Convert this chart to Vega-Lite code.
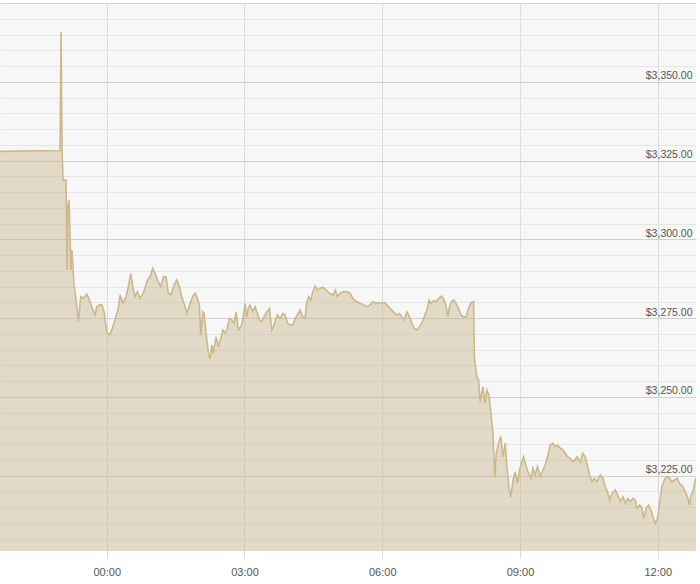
{
  "$schema": "https://vega.github.io/schema/vega-lite/v6.json",
  "autosize": {"type": "none"},
  "padding": {"left": 0, "top": 3, "right": 4, "bottom": 33},
  "width": 696,
  "height": 548,
  "background": "#ffffff",
  "config": {
    "view": {"fill": "#f7f7f7", "stroke": null},
    "font": "Liberation Sans"
  },
  "data": {
    "values": [
      {"t": -139.5, "p": 3327.9}, {"t": -61.0, "p": 3328.2}, {"t": -59.7, "p": 3365.8}, {"t": -58.4, "p": 3328.3},
      {"t": -57.1, "p": 3318.8}, {"t": -53.2, "p": 3318.8}, {"t": -51.9, "p": 3290.3}, {"t": -50.6, "p": 3310.9},
      {"t": -49.3, "p": 3312.5}, {"t": -48.0, "p": 3301.4}, {"t": -46.7, "p": 3290.3}, {"t": -45.4, "p": 3296.6},
      {"t": -42.8, "p": 3285.5}, {"t": -40.1, "p": 3280.7}, {"t": -37.1, "p": 3273.9}, {"t": -34.0, "p": 3281.8},
      {"t": -30.6, "p": 3281.3}, {"t": -26.1, "p": 3282.6}, {"t": -22.7, "p": 3280.7}, {"t": -19.6, "p": 3278.6},
      {"t": -15.3, "p": 3276.0}, {"t": -13.1, "p": 3278.6}, {"t": -9.7, "p": 3279.2}, {"t": -6.5, "p": 3279.2},
      {"t": -3.5, "p": 3277.0}, {"t": 0, "p": 3270.7}, {"t": 3.4, "p": 3269.6}, {"t": 6.5, "p": 3271.2},
      {"t": 10.8, "p": 3274.4}, {"t": 15.2, "p": 3278.2}, {"t": 17.4, "p": 3282.3}, {"t": 20.9, "p": 3279.8},
      {"t": 25.2, "p": 3281.8}, {"t": 28.2, "p": 3285.0}, {"t": 31.4, "p": 3289.2}, {"t": 34.0, "p": 3285.0},
      {"t": 37.0, "p": 3281.8}, {"t": 40.0, "p": 3283.4}, {"t": 43.5, "p": 3281.3}, {"t": 47.8, "p": 3282.9},
      {"t": 53.1, "p": 3287.1}, {"t": 56.6, "p": 3288.1}, {"t": 60.1, "p": 3290.8}, {"t": 63.1, "p": 3289.2},
      {"t": 67.5, "p": 3286.5}, {"t": 70.6, "p": 3285.0}, {"t": 74.0, "p": 3288.1}, {"t": 77.5, "p": 3288.1},
      {"t": 80.5, "p": 3282.9}, {"t": 83.7, "p": 3282.3}, {"t": 88.0, "p": 3285.5}, {"t": 91.5, "p": 3287.1},
      {"t": 94.9, "p": 3285.0}, {"t": 98.0, "p": 3281.8}, {"t": 102.4, "p": 3278.6}, {"t": 104.6, "p": 3276.5},
      {"t": 108.9, "p": 3279.7}, {"t": 113.2, "p": 3282.3}, {"t": 115.4, "p": 3282.9}, {"t": 118.4, "p": 3281.3},
      {"t": 121.0, "p": 3279.2}, {"t": 122.9, "p": 3269.6}, {"t": 125.5, "p": 3277.0}, {"t": 127.2, "p": 3276.5},
      {"t": 129.8, "p": 3270.2}, {"t": 132.8, "p": 3263.8}, {"t": 135.0, "p": 3262.2}, {"t": 137.3, "p": 3266.5},
      {"t": 139.3, "p": 3263.8}, {"t": 142.9, "p": 3269.1}, {"t": 145.9, "p": 3265.9}, {"t": 149.0, "p": 3268.6},
      {"t": 151.6, "p": 3271.2}, {"t": 154.6, "p": 3270.2}, {"t": 157.6, "p": 3271.8}, {"t": 160.3, "p": 3274.9},
      {"t": 163.4, "p": 3274.4}, {"t": 166.4, "p": 3273.4}, {"t": 169.0, "p": 3277.0}, {"t": 172.0, "p": 3271.2},
      {"t": 175.2, "p": 3272.3}, {"t": 177.8, "p": 3274.4}, {"t": 180.8, "p": 3279.7}, {"t": 183.0, "p": 3275.4},
      {"t": 185.1, "p": 3278.1}, {"t": 187.3, "p": 3279.2}, {"t": 190.9, "p": 3277.0}, {"t": 193.9, "p": 3278.6},
      {"t": 196.1, "p": 3277.0}, {"t": 199.5, "p": 3274.4}, {"t": 202.6, "p": 3273.9}, {"t": 205.6, "p": 3275.4},
      {"t": 209.2, "p": 3277.0}, {"t": 212.6, "p": 3278.1}, {"t": 215.7, "p": 3271.2}, {"t": 217.8, "p": 3272.3},
      {"t": 220.4, "p": 3274.4}, {"t": 223.0, "p": 3276.0}, {"t": 226.5, "p": 3274.9}, {"t": 230.1, "p": 3276.5},
      {"t": 233.1, "p": 3276.0}, {"t": 236.1, "p": 3273.4}, {"t": 239.6, "p": 3272.8}, {"t": 243.1, "p": 3272.8},
      {"t": 246.1, "p": 3274.9}, {"t": 249.2, "p": 3276.0}, {"t": 252.7, "p": 3277.6}, {"t": 256.2, "p": 3275.4},
      {"t": 259.2, "p": 3274.9}, {"t": 261.4, "p": 3280.2}, {"t": 264.1, "p": 3281.8}, {"t": 266.7, "p": 3280.7},
      {"t": 269.3, "p": 3283.4}, {"t": 272.3, "p": 3285.2}, {"t": 275.3, "p": 3283.9}, {"t": 278.8, "p": 3284.5},
      {"t": 282.4, "p": 3284.8}, {"t": 286.7, "p": 3283.9}, {"t": 291.0, "p": 3282.9}, {"t": 295.4, "p": 3282.3},
      {"t": 298.8, "p": 3283.9}, {"t": 301.4, "p": 3281.8}, {"t": 305.0, "p": 3282.9}, {"t": 309.3, "p": 3283.4},
      {"t": 313.7, "p": 3283.4}, {"t": 318.0, "p": 3282.9}, {"t": 322.4, "p": 3281.0}, {"t": 326.8, "p": 3280.2},
      {"t": 331.1, "p": 3279.7}, {"t": 335.4, "p": 3279.2}, {"t": 339.9, "p": 3278.6}, {"t": 344.2, "p": 3279.2},
      {"t": 347.7, "p": 3280.2}, {"t": 352.0, "p": 3279.7}, {"t": 356.3, "p": 3279.9}, {"t": 359.5, "p": 3279.7},
      {"t": 362.5, "p": 3280.0}, {"t": 366.0, "p": 3279.2}, {"t": 370.3, "p": 3278.1}, {"t": 374.6, "p": 3277.0},
      {"t": 378.2, "p": 3276.0}, {"t": 382.5, "p": 3276.5}, {"t": 385.6, "p": 3275.4}, {"t": 388.6, "p": 3274.4},
      {"t": 392.2, "p": 3277.0}, {"t": 395.6, "p": 3275.4}, {"t": 398.7, "p": 3273.4}, {"t": 401.7, "p": 3271.8},
      {"t": 405.2, "p": 3271.2}, {"t": 408.6, "p": 3272.3}, {"t": 411.8, "p": 3273.4}, {"t": 414.8, "p": 3275.4},
      {"t": 418.3, "p": 3277.6}, {"t": 421.3, "p": 3280.7}, {"t": 423.9, "p": 3279.7}, {"t": 426.9, "p": 3280.5},
      {"t": 430.5, "p": 3280.2}, {"t": 433.5, "p": 3281.3}, {"t": 437.9, "p": 3282.0}, {"t": 440.9, "p": 3280.7},
      {"t": 443.5, "p": 3278.6}, {"t": 445.8, "p": 3275.4}, {"t": 447.9, "p": 3278.6}, {"t": 451.0, "p": 3280.5},
      {"t": 454.0, "p": 3280.7}, {"t": 456.6, "p": 3279.7}, {"t": 459.6, "p": 3278.1}, {"t": 462.8, "p": 3276.0},
      {"t": 466.2, "p": 3275.4}, {"t": 469.7, "p": 3275.4}, {"t": 472.7, "p": 3278.1}, {"t": 475.8, "p": 3279.9},
      {"t": 479.4, "p": 3280.2}, {"t": 480.4, "p": 3262.8}, {"t": 481.8, "p": 3259.6}, {"t": 483.7, "p": 3256.4},
      {"t": 485.8, "p": 3255.4}, {"t": 488.0, "p": 3248.5}, {"t": 491.5, "p": 3253.2}, {"t": 494.1, "p": 3248.0},
      {"t": 496.7, "p": 3252.2}, {"t": 499.4, "p": 3250.6}, {"t": 502.0, "p": 3244.8}, {"t": 504.6, "p": 3238.5},
      {"t": 507.2, "p": 3224.7}, {"t": 508.9, "p": 3232.1}, {"t": 511.9, "p": 3235.3}, {"t": 515.0, "p": 3237.4},
      {"t": 517.7, "p": 3231.0}, {"t": 520.7, "p": 3235.3}, {"t": 522.9, "p": 3227.9}, {"t": 525.5, "p": 3221.5},
      {"t": 528.1, "p": 3218.3}, {"t": 530.8, "p": 3223.6}, {"t": 533.7, "p": 3226.3}, {"t": 536.7, "p": 3222.6},
      {"t": 539.4, "p": 3226.8}, {"t": 542.5, "p": 3229.4}, {"t": 544.6, "p": 3231.0}, {"t": 548.1, "p": 3227.9},
      {"t": 551.1, "p": 3225.8}, {"t": 554.3, "p": 3224.2}, {"t": 556.9, "p": 3227.4}, {"t": 559.9, "p": 3225.2},
      {"t": 562.9, "p": 3227.9}, {"t": 566.4, "p": 3224.7}, {"t": 570.0, "p": 3226.8}, {"t": 573.0, "p": 3228.4},
      {"t": 576.0, "p": 3231.0}, {"t": 579.5, "p": 3234.7}, {"t": 583.0, "p": 3235.3}, {"t": 586.0, "p": 3234.2},
      {"t": 589.0, "p": 3234.7}, {"t": 592.6, "p": 3233.7}, {"t": 596.1, "p": 3233.2}, {"t": 599.1, "p": 3232.1},
      {"t": 602.1, "p": 3231.0}, {"t": 605.6, "p": 3230.5}, {"t": 610.0, "p": 3229.4}, {"t": 614.4, "p": 3231.0},
      {"t": 618.7, "p": 3229.4}, {"t": 622.2, "p": 3232.1}, {"t": 625.2, "p": 3231.0}, {"t": 628.3, "p": 3227.9},
      {"t": 630.9, "p": 3225.2}, {"t": 634.0, "p": 3223.1}, {"t": 637.0, "p": 3224.2}, {"t": 640.5, "p": 3223.1},
      {"t": 644.9, "p": 3225.2}, {"t": 648.4, "p": 3224.2}, {"t": 651.4, "p": 3221.5}, {"t": 654.4, "p": 3219.9},
      {"t": 657.1, "p": 3217.3}, {"t": 660.2, "p": 3219.4}, {"t": 664.5, "p": 3220.5}, {"t": 667.5, "p": 3218.9},
      {"t": 671.0, "p": 3216.8}, {"t": 674.6, "p": 3218.3}, {"t": 677.6, "p": 3216.2}, {"t": 680.6, "p": 3217.8},
      {"t": 684.1, "p": 3216.8}, {"t": 687.7, "p": 3217.8}, {"t": 690.7, "p": 3217.3}, {"t": 692.9, "p": 3214.7},
      {"t": 696.3, "p": 3215.7}, {"t": 699.5, "p": 3214.7}, {"t": 701.6, "p": 3211.5}, {"t": 705.1, "p": 3214.7},
      {"t": 708.0, "p": 3215.7}, {"t": 711.1, "p": 3214.1}, {"t": 713.7, "p": 3212.0}, {"t": 716.7, "p": 3209.9},
      {"t": 719.8, "p": 3211.5}, {"t": 722.4, "p": 3216.2}, {"t": 725.5, "p": 3221.5}, {"t": 728.5, "p": 3223.6},
      {"t": 732.0, "p": 3224.7}, {"t": 735.5, "p": 3224.2}, {"t": 738.6, "p": 3223.1}, {"t": 741.6, "p": 3223.6},
      {"t": 745.1, "p": 3224.2}, {"t": 748.5, "p": 3222.6}, {"t": 752.9, "p": 3221.5}, {"t": 755.9, "p": 3219.9},
      {"t": 758.9, "p": 3218.3}, {"t": 761.6, "p": 3215.7}, {"t": 763.4, "p": 3218.9}, {"t": 766.0, "p": 3219.9},
      {"t": 769.0, "p": 3223.6}, {"t": 770.0, "p": 3224.3}
    ]
  },
  "mark": {
    "type": "area",
    "color": "#c8b48a",
    "fillOpacity": 0.45,
    "clip": true,
    "line": {"color": "#cbb98b", "strokeWidth": 1.6}
  },
  "encoding": {
    "x": {
      "field": "t",
      "type": "quantitative",
      "title": null,
      "scale": {"domain": [-139.5, 770], "nice": false, "zero": false},
      "axis": {
        "values": [0, 180, 360, 540, 720],
        "labelExpr": "utcFormat(datum.value * 60000, '%H:%M')",
        "domain": false,
        "tickSize": 7,
        "tickColor": "#dcdcdc",
        "gridColor": "#dcdcdc",
        "labelPadding": 8,
        "labelFont": "Liberation Sans",
        "labelFontSize": 11,
        "labelColor": "#555555"
      }
    },
    "y": {
      "field": "p",
      "type": "quantitative",
      "title": null,
      "scale": {"domain": [3201.1, 3375], "nice": false, "zero": false},
      "axis": {
        "orient": "right",
        "values": [3205, 3210, 3215, 3220, 3225, 3230, 3235, 3240, 3245, 3250, 3255, 3260, 3265, 3270, 3275, 3280, 3285, 3290, 3295, 3300, 3305, 3310, 3315, 3320, 3325, 3330, 3335, 3340, 3345, 3350, 3355, 3360, 3365, 3370, 3375],
        "labelExpr": "(datum.value % 25 === 0 && datum.value < 3375) ? format(datum.value, '$,.2f') : ''",
        "domain": false,
        "ticks": false,
        "tickSize": 0,
        "labelAlign": "right",
        "labelBaseline": "bottom",
        "labelPadding": -4,
        "labelOffset": -1,
        "labelFont": "Liberation Sans",
        "labelFontSize": 10.5,
        "labelColor": "#555555",
        "gridColor": {"condition": {"test": "datum.value % 25 === 0", "value": "#cfcfcf"}, "value": "#e6e6e6"}
      }
    }
  }
}
